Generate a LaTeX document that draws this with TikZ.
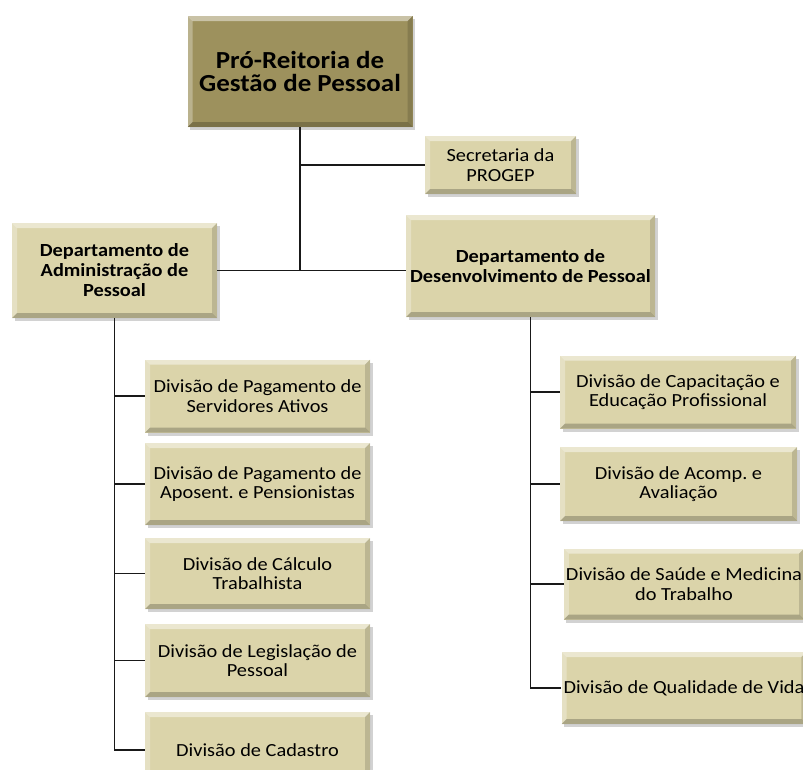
\documentclass[tikz,border=0pt]{standalone}
\usepackage{fontspec}
\setmainfont{Carlito}[FakeStretch=1.1]
\usetikzlibrary{shadows}
\frenchspacing
\definecolor{boxfill}{RGB}{219,212,170}
\definecolor{topfill}{RGB}{157,145,93}
\definecolor{linecol}{RGB}{25,25,25}

\tikzset{
  bevelled/.style={path picture={
    \fill[white,opacity=0.45]
      (path picture bounding box.north west) -- (path picture bounding box.north east)
      -- ([xshift=-#1,yshift=-#1]path picture bounding box.north east)
      -- ([xshift=#1,yshift=-#1]path picture bounding box.north west) -- cycle;
    \fill[white,opacity=0.3]
      (path picture bounding box.north west) -- (path picture bounding box.south west)
      -- ([xshift=#1,yshift=#1]path picture bounding box.south west)
      -- ([xshift=#1,yshift=-#1]path picture bounding box.north west) -- cycle;
    \fill[black,opacity=0.22]
      (path picture bounding box.south west) -- (path picture bounding box.south east)
      -- ([xshift=-#1,yshift=#1]path picture bounding box.south east)
      -- ([xshift=#1,yshift=#1]path picture bounding box.south west) -- cycle;
    \fill[black,opacity=0.14]
      (path picture bounding box.north east) -- (path picture bounding box.south east)
      -- ([xshift=-#1,yshift=#1]path picture bounding box.south east)
      -- ([xshift=-#1,yshift=-#1]path picture bounding box.north east) -- cycle;
  }},
  bevelled/.default=5pt,
  orgbox/.style={fill=boxfill, inner sep=2pt, align=center,
    font=\fontsize{18.5}{19.5}\selectfont,
    drop shadow={shadow xshift=2.5pt, shadow yshift=-3pt, opacity=0.35},
    bevelled},
  headbox/.style={orgbox, fill=topfill, font=\fontsize{24.5}{23}\selectfont\bfseries},
  deptbox/.style={orgbox, font=\fontsize{18.5}{20}\selectfont\bfseries},
  link/.style={draw=linecol, line width=1.4pt},
}

\begin{document}
\begin{tikzpicture}[x=1pt, y=-1pt]
\clip (0,0) rectangle (803,769);
\fill[white] (0,0) rectangle (803,769);

% top level
\node[headbox, minimum width=225pt, minimum height=111pt] (top) at (300,71.5)
  {Pró-Reitoria de\\Gestão de Pessoal};
\node[orgbox, minimum width=151pt, minimum height=58pt] (sec) at (500.5,165)
  {Secretaria da\\PROGEP};

% departments
\node[deptbox, minimum width=205pt, minimum height=95pt] (adm) at (114.5,270.5)
  {Departamento de\\Administração de\\Pessoal};
\node[deptbox, minimum width=249pt, minimum height=102pt] (dev) at (530.5,266)
  {Departamento de\\Desenvolvimento de Pessoal};

% divisions under administration
\node[orgbox, minimum width=225pt, minimum height=73pt] (l1) at (257.5,396)
  {Divisão de Pagamento de\\Servidores Ativos};
\node[orgbox, minimum width=225pt, minimum height=82pt] (l2) at (257.5,484)
  {Divisão de Pagamento de\\Aposent. e Pensionistas};
\node[orgbox, minimum width=225pt, minimum height=71pt] (l3) at (257.5,573.5)
  {Divisão de Cálculo\\Trabalhista};
\node[orgbox, minimum width=225pt, minimum height=73pt] (l4) at (257.5,660.5)
  {Divisão de Legislação de\\Pessoal};
\node[orgbox, minimum width=225pt, minimum height=76pt] (l5) at (257.5,750)
  {Divisão de Cadastro};

% divisions under development
\node[orgbox, minimum width=236pt, minimum height=73pt] (r1) at (678,392)
  {Divisão de Capacitação e\\Educação Profissional};
\node[orgbox, minimum width=237pt, minimum height=74pt] (r2) at (678.5,484)
  {Divisão de Acomp. e\\Avaliação};
\node[orgbox, minimum width=234pt, minimum height=71pt] (r3) at (684,584)
  {Divisão de Saúde e Medicina\\do Trabalho};
\node[orgbox, minimum width=234pt, minimum height=72pt] (r4) at (684,688)
  {Divisão de Qualidade de Vida};

% trunk and department branches
\coordinate (j) at (top.south |- adm.east);
\draw[link] (top.south) -- (j);
\draw[link] (adm.east) -- (j) -- (j -| dev.west);
\draw[link] (sec.west) -- (sec.west -| top.south);

% left bus
\draw[link] (adm.south) -- (adm.south |- l5.west) -- (l5.west);
\foreach \n in {l1,l2,l3,l4}
  \draw[link] (\n.west) -- (\n.west -| adm.south);

% right bus
\draw[link] (dev.south) -- (dev.south |- r4.west) -- (r4.west);
\foreach \n in {r1,r2,r3}
  \draw[link] (\n.west) -- (\n.west -| dev.south);
\end{tikzpicture}
\end{document}
